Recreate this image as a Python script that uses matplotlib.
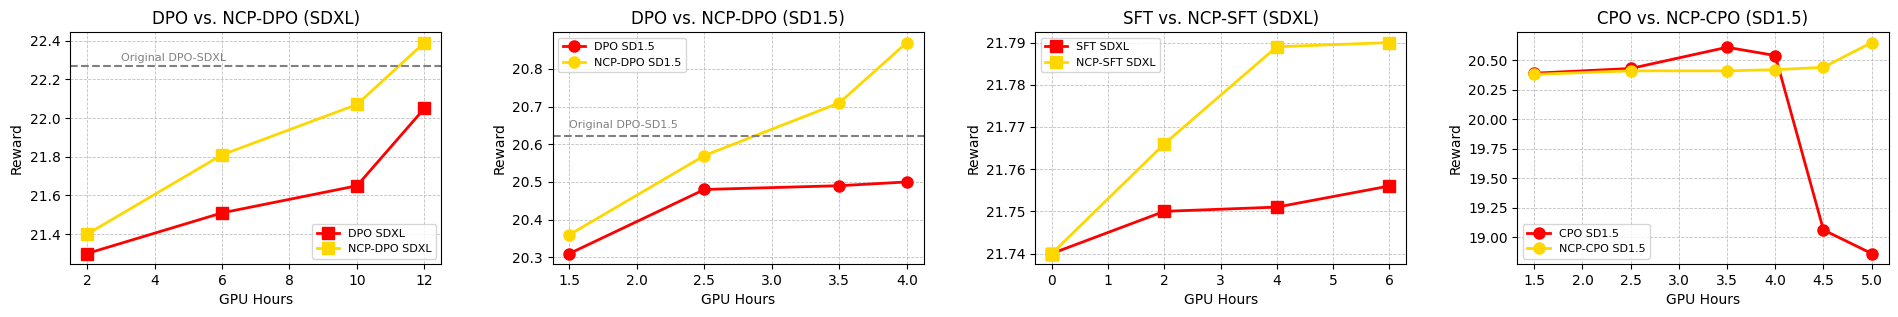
import numpy as np
import matplotlib.pyplot as plt

# panel 1: DPO vs NCP-DPO (SDXL)
hours_dpo_xl = [2, 6, 10, 12]
dpo_xl = [21.30, 21.51, 21.65, 22.05]
ncp_dpo_xl = [21.40, 21.81, 22.07, 22.39]
orig_dpo_xl = 22.27

# panel 2: DPO vs NCP-DPO (SD1.5)
hours_dpo_15 = [1.5, 2.5, 3.5, 4.0]
dpo_15 = [20.31, 20.48, 20.49, 20.50]
ncp_dpo_15 = [20.36, 20.57, 20.71, 20.87]
orig_dpo_15 = 20.622

# panel 3: SFT vs NCP-SFT (SDXL)
hours_sft = [0, 2, 4, 6]
sft_xl = [21.740, 21.750, 21.751, 21.756]
ncp_sft_xl = [21.740, 21.766, 21.789, 21.790]

# panel 4: CPO vs NCP-CPO (SD1.5)
hours_cpo = [1.5, 2.5, 3.5, 4.0, 4.5, 5.0]
cpo_15 = [20.39, 20.43, 20.61, 20.54, 19.06, 18.86]
ncp_cpo_15 = [20.38, 20.41, 20.41, 20.42, 20.44, 20.65]

fig, axes = plt.subplots(1, 4, figsize=(18.98, 3.17), dpi=100)

def draw(ax, x, a, b, labels, marker, title, loc):
    ax.plot(x, a, marker=marker, color='red', linewidth=2, markersize=8, label=labels[0])
    ax.plot(x, b, marker=marker, color='gold', linewidth=2, markersize=8, label=labels[1])
    ax.set_title(title)
    ax.set_xlabel('GPU Hours')
    ax.set_ylabel('Reward')
    ax.grid(True, linestyle='--', linewidth=0.6, alpha=0.8)
    ax.legend(loc=loc, fontsize=8)

ax = axes[0]
draw(ax, hours_dpo_xl, dpo_xl, ncp_dpo_xl, ['DPO SDXL', 'NCP-DPO SDXL'], 's',
     'DPO vs. NCP-DPO (SDXL)', 'lower right')
ax.axhline(orig_dpo_xl, color='gray', linestyle='--', linewidth=1.5)
ax.text(3, orig_dpo_xl + 0.025, 'Original DPO-SDXL', color='gray', fontsize=8)

ax = axes[1]
draw(ax, hours_dpo_15, dpo_15, ncp_dpo_15, ['DPO SD1.5', 'NCP-DPO SD1.5'], 'o',
     'DPO vs. NCP-DPO (SD1.5)', 'upper left')
ax.axhline(orig_dpo_15, color='gray', linestyle='--', linewidth=1.5)
ax.text(1.5, orig_dpo_15 + 0.022, 'Original DPO-SD1.5', color='gray', fontsize=8)

ax = axes[2]
draw(ax, hours_sft, sft_xl, ncp_sft_xl, ['SFT SDXL', 'NCP-SFT SDXL'], 's',
     'SFT vs. NCP-SFT (SDXL)', 'upper left')

ax = axes[3]
draw(ax, hours_cpo, cpo_15, ncp_cpo_15, ['CPO SD1.5', 'NCP-CPO SD1.5'], 'o',
     'CPO vs. NCP-CPO (SD1.5)', 'lower left')

plt.subplots_adjust(left=0.037, right=0.995, bottom=0.167, top=0.899, wspace=0.30)
plt.savefig('out.png', dpi=100)
